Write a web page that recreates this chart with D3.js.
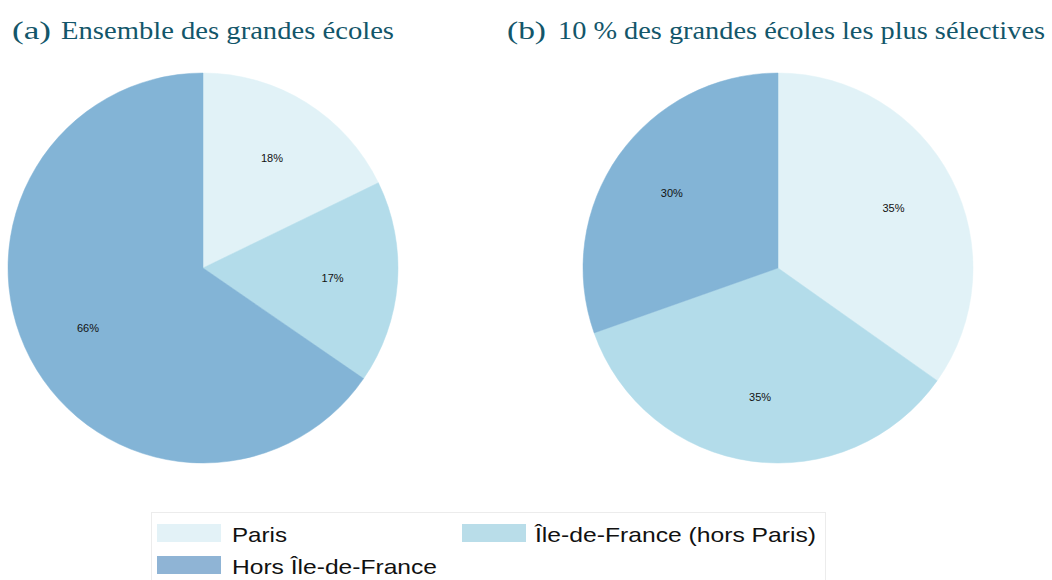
<!DOCTYPE html>
<html><head><meta charset="utf-8">
<script src="https://cdn.jsdelivr.net/npm/d3@7"></script>
<style>body{margin:0;background:#fff}svg{display:block}</style>
</head><body>
<svg id="c" width="1052" height="580"></svg>
<script>
const categories = ["Paris", "Île-de-France (hors Paris)", "Hors Île-de-France"];
const valuesAll = [17.8, 16.8, 65.4];
const valuesTop10 = [34.8, 34.8, 30.4];
const labelsAll = ["18%", "17%", "66%"];
const labelsTop10 = ["35%", "35%", "30%"];
const titles = ["Ensemble des grandes écoles", "10 % des grandes écoles les plus sélectives"];
const tags = ["(a)", "(b)"];
const colors = ["#e1f2f7", "#b3dcea", "#83b4d6"];
const legendColors = ["#e3f2f7", "#b9dde9", "#8fb4d5"];

const svg = d3.select("#c");
const color = d3.scaleOrdinal().domain(categories).range(colors);
const pie = d3.pie().sort(null).value(d => d.v);
const R = 195;
const arc = d3.arc().innerRadius(0).outerRadius(R);
const labelArc = d3.arc().innerRadius(130).outerRadius(130);

const panels = [
  {cx: 203, cy: 268, vals: valuesAll, labs: labelsAll, tx: 12, tagEnd: 51, t2: 61, tEnd: 394},
  {cx: 778, cy: 268, vals: valuesTop10, labs: labelsTop10, tx: 507, tagEnd: 546, t2: 558, tEnd: 1045}
];

panels.forEach((p, i) => {
  const data = categories.map((c, j) => ({c, v: p.vals[j], l: p.labs[j]}));
  const g = svg.append("g").attr("transform", `translate(${p.cx},${p.cy})`);
  const arcs = pie(data);
  g.selectAll("path").data(arcs).join("path")
    .attr("d", arc).attr("fill", d => color(d.data.c))
    .attr("stroke", d => color(d.data.c)).attr("stroke-width", 0.5);
  g.selectAll("text").data(arcs).join("text")
    .attr("transform", d => `translate(${labelArc.centroid(d)})`)
    .attr("text-anchor", "middle").attr("dy", "0.35em")
    .attr("font-family", "Liberation Sans, Arial, sans-serif")
    .attr("font-size", 11).attr("fill", "#111")
    .text(d => d.data.l);

  const font = {fam: "Liberation Serif, serif", size: 26, fill: "#13566a"};
  svg.append("text").attr("x", p.tx).attr("y", 39)
    .attr("font-family", font.fam).attr("font-size", font.size).attr("fill", font.fill)
    .attr("textLength", p.tagEnd - p.tx).attr("lengthAdjust", "spacingAndGlyphs")
    .text(tags[i]);
  svg.append("text").attr("x", p.t2).attr("y", 39)
    .attr("font-family", font.fam).attr("font-size", font.size).attr("fill", font.fill)
    .attr("textLength", p.tEnd - p.t2).attr("lengthAdjust", "spacingAndGlyphs")
    .text(titles[i]);
});

// legend
const lg = svg.append("g");
lg.append("rect").attr("x", 151.5).attr("y", 512.5).attr("width", 674).attr("height", 80)
  .attr("fill", "#fff").attr("stroke", "#ececec");
const legItems = [
  {x: 157, y: 524, tx: 232, ty: 542, w: 55},
  {x: 462, y: 524, tx: 535, ty: 542, w: 281},
  {x: 157, y: 556, tx: 232, ty: 574, w: 205}
];
categories.forEach((c, j) => {
  const it = legItems[j];
  lg.append("rect").attr("x", it.x).attr("y", it.y).attr("width", 64).attr("height", 18)
    .attr("fill", legendColors[j]);
  lg.append("text").attr("x", it.tx).attr("y", it.ty)
    .attr("font-family", "Liberation Sans, Arial, sans-serif").attr("font-size", 21)
    .attr("textLength", it.w).attr("lengthAdjust", "spacingAndGlyphs")
    .attr("fill", "#111").text(c);
});
</script>
</body></html>
